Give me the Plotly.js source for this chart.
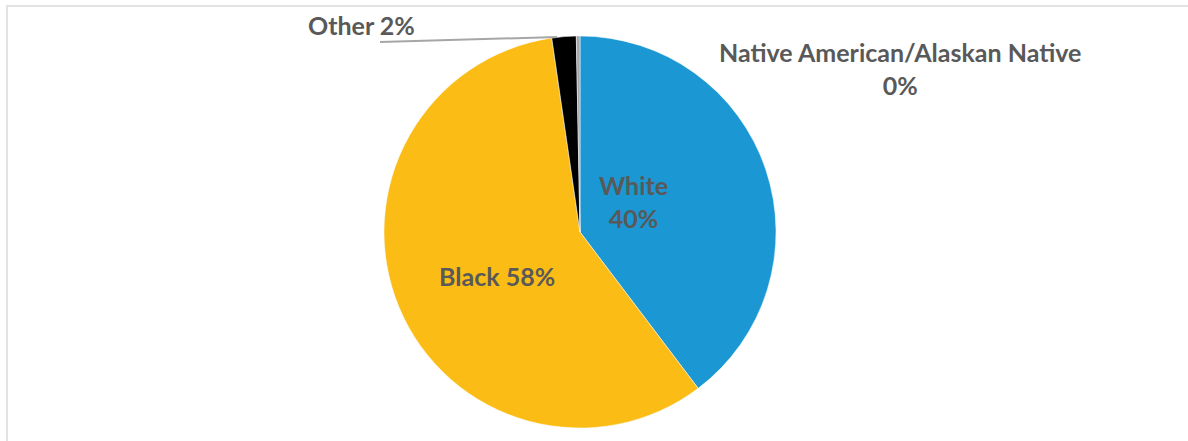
<!DOCTYPE html>
<html><head><meta charset="utf-8">
<script src="https://cdn.plot.ly/plotly-3.0.1.min.js"></script>
<style>
html,body{margin:0;padding:0;background:#fff;}
#wrap{position:relative;width:1188px;height:441px;overflow:hidden;}
#chart{position:absolute;left:0;top:0;width:1188px;height:441px;}
#frame{position:absolute;left:6px;top:5px;width:1190px;height:450px;border-top:2px solid #e3e3e3;border-left:2px solid #e3e3e3;pointer-events:none;}
</style>
</head><body>
<div id="wrap"><div id="chart"></div><div id="frame"></div></div>
<script>
const categories = ["White", "Black", "Other", "Native American/Alaskan Native"];
const values = [39.7, 58.0, 2.0, 0.3];
const pctLabels = ["40%", "58%", "2%", "0%"];
const colors = ["#1B97D4", "#FBBC15", "#000000", "#A6A6A6"];

const W = 1188, H = 441;
const cx = 580, r = 196;
const mt = 36, mb = 13;

const font = {family: "Lato, 'Open Sans', sans-serif", size: 25, color: "#595959", weight: 700};

function px(x){ return x / W; }
function py(y){ return 1 - (y - mt) / (H - mt - mb); }

const annotations = [
  {text: categories[0] + "<br>" + pctLabels[0], x: px(633), y: py(201)},
  {text: categories[1] + " " + pctLabels[1], x: px(497), y: py(276)},
  {text: categories[2] + " " + pctLabels[2], x: px(361), y: py(25)},
  {text: categories[3] + "<br>" + pctLabels[3], x: px(900), y: py(69)}
].map(a => ({
  text: a.text, x: a.x, y: a.y, xref: "paper", yref: "paper",
  xanchor: "center", yanchor: "middle", showarrow: false,
  font: font, align: "center"
}));

const shapes = [{
  type: "line", xref: "paper", yref: "paper",
  x0: px(380), y0: py(42), x1: px(557), y1: py(37),
  line: {color: "#A6A6A6", width: 2}
}];

const trace = {
  type: "pie",
  labels: categories,
  values: values,
  sort: false,
  direction: "clockwise",
  rotation: 0,
  marker: {colors: colors, line: {color: "#ffffff", width: 0.5}},
  textinfo: "none",
  hoverinfo: "label+percent",
  showlegend: false,
  domain: {x: [px(cx - r), px(cx + r)], y: [0, 1]}
};

const layout = {
  width: W, height: H,
  margin: {l: 0, r: 0, t: mt, b: mb},
  paper_bgcolor: "#ffffff",
  plot_bgcolor: "#ffffff",
  annotations: annotations,
  shapes: shapes,
  showlegend: false
};

Plotly.newPlot("chart", [trace], layout, {displayModeBar: false, staticPlot: true});
</script>
</body></html>
